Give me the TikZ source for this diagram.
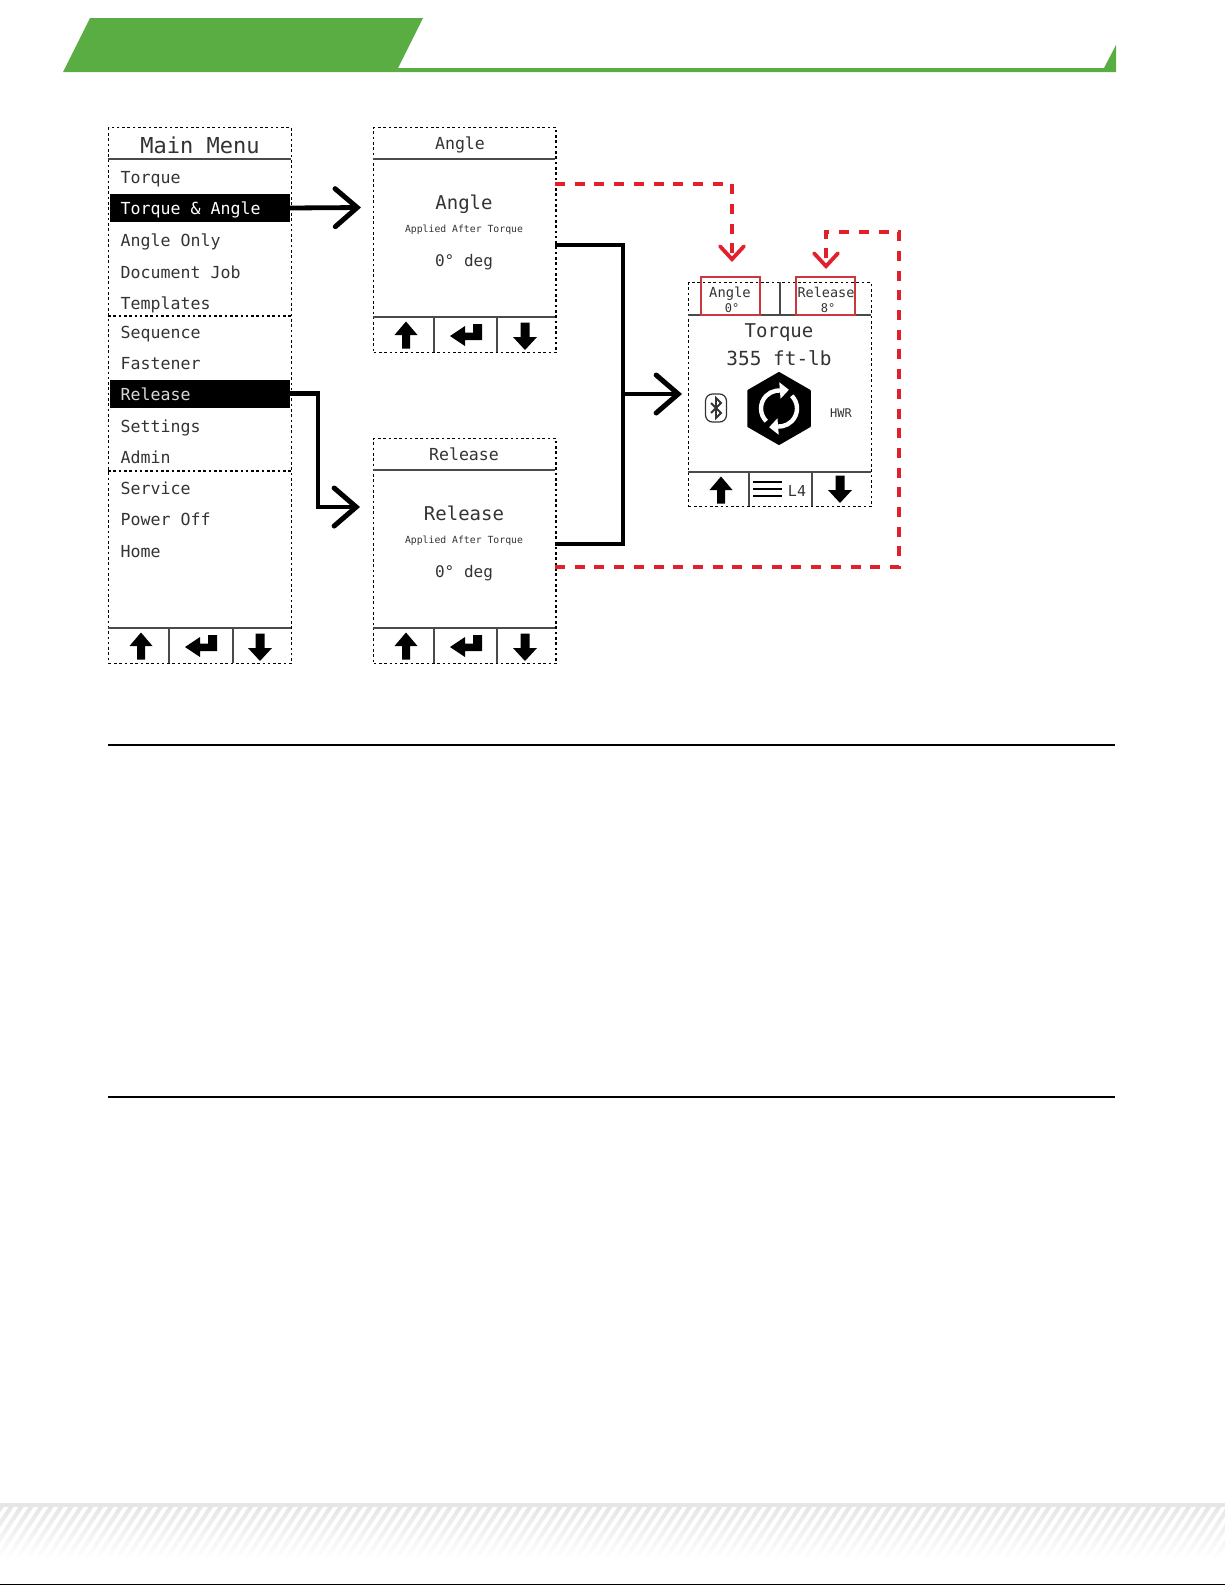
\documentclass[tikz,border=0pt]{standalone}
\usepackage{fontspec}
\newfontfamily\screenfont{DejaVu Sans Mono}
\usetikzlibrary{shapes.geometric, arrows.meta, fadings}
\definecolor{hdrgreen}{HTML}{5AAD43}
\definecolor{inkgray}{HTML}{333333}
\definecolor{rulegray}{HTML}{4A4A4A}
\definecolor{dashred}{HTML}{E2202C}
\definecolor{chipred}{HTML}{C8383C}
\definecolor{stripegray}{HTML}{E6E6E6}
\tikzfading[name=fadestripe, top color=transparent!0, bottom color=transparent!100]

\begin{document}
\begin{tikzpicture}[
  x=1pt, y=-1pt,
  screen/.style={rectangle, draw=black, line width=1.3pt, dash pattern=on 2.6pt off 2.7pt,
                 minimum width=182.5pt, anchor=north west, inner sep=0pt, outer sep=0pt},
  rule/.style={draw=rulegray, line width=2.3pt},
  divider/.style={draw=black, line width=1.3pt, dash pattern=on 2.6pt off 2.7pt},
  menuitem/.style={anchor=base west, inner sep=0pt, text=inkgray, font=\screenfont\fontsize{16.6}{18}\selectfont},
  menubar/.style={rectangle, fill=black, minimum width=180pt, minimum height=28pt, inner sep=0pt},
  label/.style={anchor=base, inner sep=0pt, text=inkgray, font=\screenfont\fontsize{#1}{#1}\selectfont},
  arr/.style={-{Straight Barb[length=22pt, width=38pt, line cap=round, line width=5pt]},
              line width=4.8pt, black},
  redarr/.style={-{Straight Barb[length=13pt, width=24pt, line cap=round, line width=3.8pt]},
                 line width=3.8pt, dashred, dash pattern=on 10pt off 9.7pt},
  link/.style={line width=4.8pt, black},
  redbox/.style={rectangle, draw=chipred, line width=1.4pt, anchor=north west,
                 minimum width=59pt, minimum height=38pt, inner sep=0pt, outer sep=0pt},
  refresh/.style={white, line width=4.4pt, -{Triangle[length=9pt, width=16pt]}},
  uparr/.pic={\fill[black] (0,-13.5) -- (11.5,0) -- (4,0) -- (4,13.5) -- (-4,13.5) -- (-4,0) -- (-11.5,0) -- cycle;},
  downarr/.pic={\fill[black] (0,14) -- (12,1) -- (4.5,1) -- (4.5,-13.5) -- (-4.5,-13.5) -- (-4.5,1) -- (-12,1) -- cycle;},
  enterarr/.pic={\fill[black] (-16,0) -- (-1,-10) -- (-1,-3.5) -- (7,-3.5) -- (7,-12) -- (16,-12) -- (16,4) -- (-1,4) -- (-1,10) -- cycle;}
]
\useasboundingbox (0,0) rectangle (1225,1585);

% page header
\fill[hdrgreen] (90,18) -- (423,18) -- (398,68) -- (1104,68) -- (1116,45) -- (1116,72) -- (63,72) -- cycle;

% screens
\node[screen, minimum height=536pt] (main) at (108.8,127.7) {};
\node[screen, minimum height=225pt] (angle) at (373.6,127.7) {};
\node[screen, minimum height=225pt] (release) at (373.6,438.7) {};
\node[screen, minimum height=224pt] (torque) at (688.7,282.7) {};

% main menu
\node[label=22] (maintitle) at (200,153) {Main Menu};
\node[menubar] (mbarangle) at (200,208) {};
\node[menubar] (mbarrelease) at (200,393.5) {};
\foreach \nm/\yy/\txt in {mtorque/183/Torque, mangleonly/246/Angle Only, mdocument/278/Document Job,
                          mtemplates/309/Templates, msequence/338/Sequence, mfastener/369/Fastener,
                          msettings/432/Settings, madmin/463/Admin, mservice/494/Service,
                          mpower/525/Power Off, mhome/557/Home}
  \node[menuitem] (\nm) at (120.5,\yy) {\txt};
\node[menuitem, text=white] (mtorqueangle) at (120.5,214) {Torque \& Angle};
\node[menuitem, text=white!85!black] (mrelease) at (120.5,400) {Release};
\draw[divider] (108,316) -- (291,316);
\draw[divider] (108,471) -- (291,471);
\draw[rule] (108,159) -- (291,159);
\draw[rule] (108,628) -- (291,628);
\draw[rule] (169,628) -- (169,663);
\draw[rule] (233,628) -- (233,663);
\pic at (141,646) {uparr};
\pic at (201,647) {enterarr};
\pic at (260,647) {downarr};

% angle and release screens
\foreach \id/\top/\ttl/\ttx in {angle/127/Angle/460, release/438/Release/464} {
  \draw[rule] (373,\top+32) -- (555,\top+32);
  \draw[rule] (373,\top+190) -- (555,\top+190);
  \draw[rule] (434,\top+190) -- (434,\top+225);
  \draw[rule] (497,\top+190) -- (497,\top+225);
  \node[label=16.6] (\id title) at (\ttx,\top+22) {\ttl};
  \node[label=19] (\id big) at (464,\top+82) {\ttl};
  \node[label=9.8] (\id note) at (464,\top+105) {Applied After Torque};
  \node[label=16] (\id value) at (464,\top+139) {0° deg};
  \pic at (406,\top+208) {uparr};
  \pic at (466,\top+209) {enterarr};
  \pic at (525,\top+209) {downarr};
}

% torque screen
\draw[rule] (688,315) -- (871,315);
\draw[rule] (688,472) -- (871,472);
\draw[rule] (780,282) -- (780,315);
\draw[rule] (749,472) -- (749,506);
\draw[rule] (812,472) -- (812,506);
\node[redbox] (anglechip) at (701,277) {};
\node[redbox] (releasechip) at (796,277) {};
\node[label=13.8] (chipangle) at (730,297) {Angle};
\node[label=12] (chipzero) at (732,312) {0°};
\node[label=13.5] (chiprelease) at (826,297) {Release};
\node[label=12] (chipeight) at (828,312) {8°};
\node[label=19] (torquename) at (779,337) {Torque};
\node[label=19.4] (torqueval) at (779,365) {355 ft-lb};
\node[label=12] (hwr) at (841,417) {HWR};
\node[label=15] (level) at (797,496) {L4};
\node[regular polygon, regular polygon sides=6, shape border rotate=30, fill=black, draw=black,
      line width=2pt, line join=round, minimum size=71pt, inner sep=0pt, outer sep=0pt] (hexnut) at (779,408.5) {};
\draw[refresh] ([shift={(225:18pt)}]hexnut.center) arc[start angle=225, end angle=100, radius=18pt] -- ++(13,-1);
\draw[refresh] ([shift={(45:18pt)}]hexnut.center) arc[start angle=45, end angle=-80, radius=18pt] -- ++(-13,1);
\node[rectangle, draw=inkgray, line width=1.2pt, rounded corners=7pt, minimum width=21pt,
      minimum height=28pt, inner sep=0pt] (btbadge) at (716,408) {};
\draw[inkgray, line width=1.8pt] (711,403) -- (721,413) -- (716,418) -- (716,398) -- (721,403) -- (711,413);
\foreach \yy in {482,489,496}
  \draw[black, line width=2.4pt] (753,\yy) -- (782,\yy);
\pic at (721,490) {uparr};
\pic at (840,489) {downarr};

% connectors
\coordinate (angletip) at (361,207.5);
\coordinate (releasetip) at (360,507);
\coordinate (torquetip) at (682,394);
\coordinate (joinmid) at (623,394);
\draw[arr] (mbarangle.east) -- (angletip);
\draw[arr] (mbarrelease.east) -| (318,507) -- (releasetip);
\draw[link] (555,245) -- (623,245) -- (623,544) -- (555,544);
\draw[arr] (joinmid) -- (torquetip);
\draw[redarr] (555,184) -- (732,184) -- (732,262);
\draw[redarr] (555,567) -- (899,567) -- (899,232) -- (826,232) -- (826,269);

% section rules
\coordinate (ruleaL) at (108,745);
\coordinate (ruleaR) at (1115,745);
\coordinate (rulebL) at (108,1097);
\coordinate (rulebR) at (1115,1097);
\draw[black, line width=1.4pt] (ruleaL) -- (ruleaR);
\draw[black, line width=1.4pt] (rulebL) -- (rulebR);

% page footer
\fill[stripegray] (0,1503) rectangle (1225,1507);
\fill[stripegray, path fading=fadestripe]
  \foreach \xx in {-20,-10,...,1260} { (\xx,1507) -- (\xx+5,1507) -- (\xx-30,1560) -- (\xx-35,1560) -- cycle };
\fill[black] (0,1584) rectangle (1225,1585);
\end{tikzpicture}
\end{document}
